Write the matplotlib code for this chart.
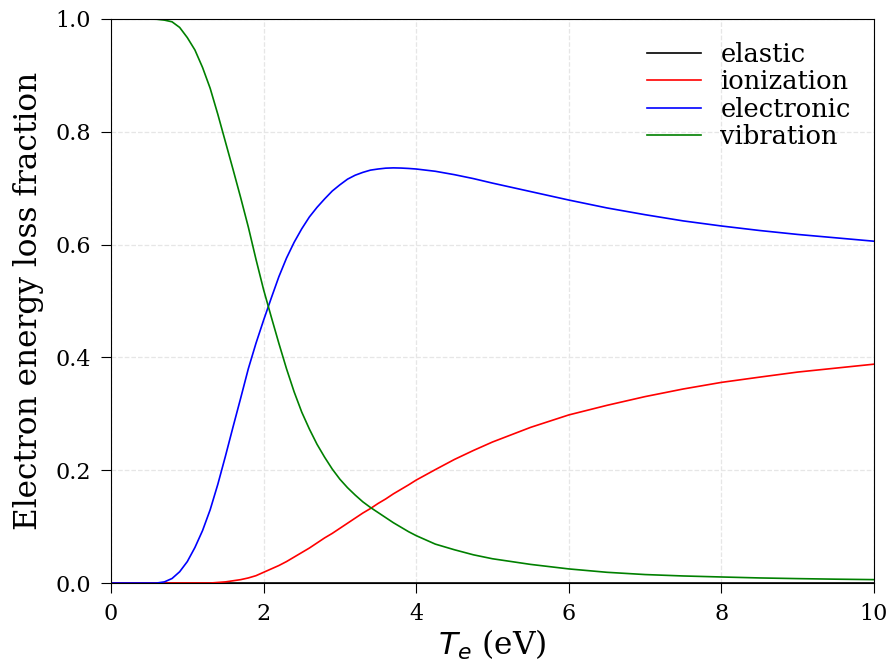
import numpy as np
import matplotlib
matplotlib.use('Agg')
import matplotlib.pyplot as plt

plt.rcParams['font.family'] = 'DejaVu Serif'
plt.rcParams['mathtext.fontset'] = 'dejavusans'

# electron temperature (eV)
Te = [0.0, 0.5, 0.6, 0.7, 0.8, 0.9, 1.0, 1.1, 1.2, 1.3, 1.4, 1.5, 1.6, 1.7, 1.8, 1.9,
      2.0, 2.1, 2.2, 2.3, 2.4, 2.5, 2.6, 2.7, 2.8, 2.9, 3.0, 3.1, 3.2, 3.3, 3.4, 3.5,
      3.6, 3.7, 3.8, 3.9, 4.0, 4.25, 4.5, 4.75, 5.0, 5.5, 6.0, 6.5, 7.0, 7.5, 8.0,
      8.5, 9.0, 9.5, 10.0]

# loss fractions
elastic = [0.0] * len(Te)
ionization = [0.0, 0.0, 0.0, 0.0, 0.0, 0.0, 0.0, 0.0, 0.0, 0.0, 0.001, 0.002, 0.004, 0.006, 0.009, 0.013,
              0.019, 0.025, 0.031, 0.038, 0.046, 0.054, 0.062, 0.071, 0.080, 0.088, 0.097, 0.106, 0.115, 0.124, 0.132, 0.141,
              0.149, 0.158, 0.166, 0.174, 0.1825, 0.201, 0.219, 0.235, 0.250, 0.276, 0.298, 0.315, 0.3305, 0.344, 0.3557,
              0.365, 0.374, 0.381, 0.388]
electronic = [0.0, 0.0, 0.0, 0.002, 0.008, 0.02, 0.038, 0.063, 0.093, 0.13, 0.175, 0.225, 0.277, 0.328, 0.38, 0.425,
              0.466, 0.505, 0.543, 0.576, 0.604, 0.628, 0.649, 0.666, 0.681, 0.695, 0.706, 0.716, 0.723, 0.728, 0.732, 0.734,
              0.7355, 0.736, 0.7357, 0.735, 0.734, 0.730, 0.724, 0.717, 0.709, 0.694, 0.679, 0.665, 0.653, 0.642, 0.633,
              0.625, 0.618, 0.612, 0.606]
vibration = [1.0, 1.0, 0.9995, 0.998, 0.995, 0.985, 0.967, 0.945, 0.914, 0.877, 0.831, 0.782, 0.733, 0.683, 0.631, 0.574,
             0.52, 0.472, 0.425, 0.38, 0.339, 0.303, 0.273, 0.246, 0.223, 0.202, 0.184, 0.169, 0.156, 0.144, 0.134, 0.125,
             0.116, 0.107, 0.099, 0.091, 0.084, 0.069, 0.059, 0.050, 0.043, 0.033, 0.025, 0.019, 0.015, 0.0125, 0.0107,
             0.009, 0.0078, 0.0068, 0.006]

fig = plt.figure(figsize=(8.93, 6.66), dpi=100)
ax = fig.add_axes([0.1243, 0.1246, 0.8544, 0.8469])

ax.plot(Te, elastic, color='black', lw=1.2, label='elastic')
ax.plot(Te, ionization, color='red', lw=1.2, label='ionization')
ax.plot(Te, electronic, color='blue', lw=1.2, label='electronic')
ax.plot(Te, vibration, color='green', lw=1.2, label='vibration')

ax.set_xlim(0, 10)
ax.set_ylim(0, 1)
ax.set_xticks([0, 2, 4, 6, 8, 10])
ax.set_yticks([0.0, 0.2, 0.4, 0.6, 0.8, 1.0])
ax.tick_params(direction='out', length=7.5, width=0.8, pad=7, labelsize=16)
ax.grid(True, linestyle='--', color='#e6e6e6', linewidth=0.9)
ax.set_axisbelow(True)

ax.set_xlabel('$T_e$ (eV)', fontsize=22.5, labelpad=2)
ax.set_ylabel('Electron energy loss fraction', fontsize=22.5, labelpad=8)

ax.legend(loc='upper right', frameon=False, fontsize=18.5, handlelength=2.1,
          handletextpad=0.75, labelspacing=0.09)

fig.savefig('out.png', dpi=100)
